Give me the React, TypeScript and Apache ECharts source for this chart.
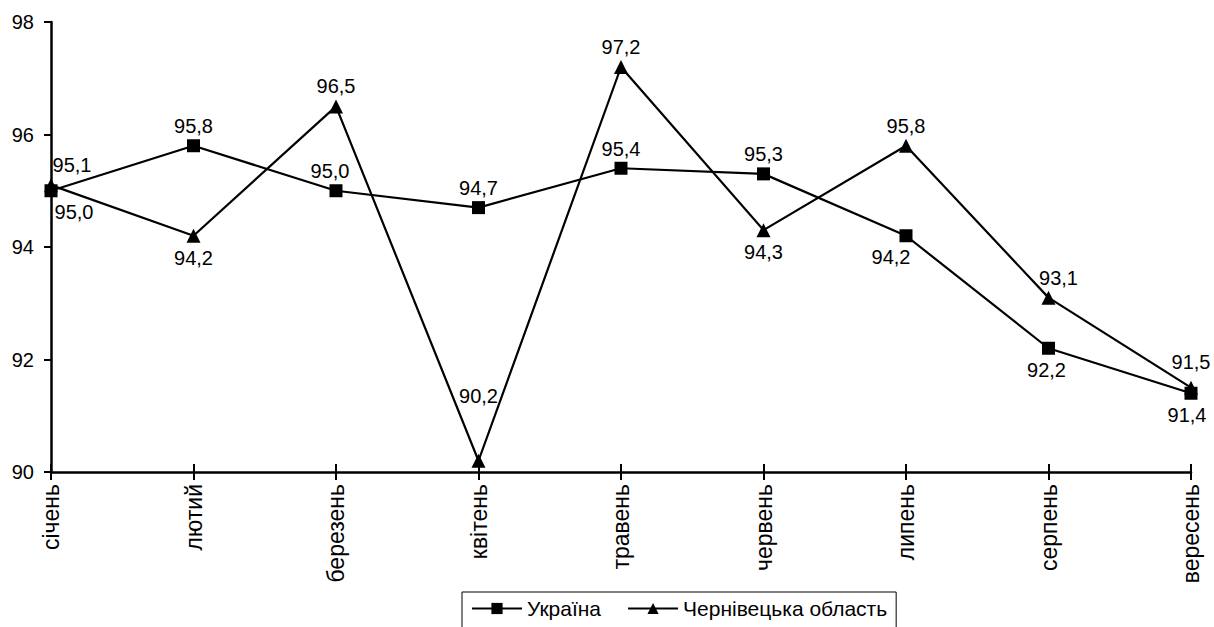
import React, { useEffect, useRef } from "react";
import * as echarts from "echarts";

const months = ["січень", "лютий", "березень", "квітень", "травень", "червень", "липень", "серпень", "вересень"];
const ukraine = [95.0, 95.8, 95.0, 94.7, 95.4, 95.3, 94.2, 92.2, 91.4];
const chernivtsi = [95.1, 94.2, 96.5, 90.2, 97.2, 94.3, 95.8, 93.1, 91.5];
const seriesNames = ["Україна", "Чернівецька область"];
const yMin = 90;
const yMax = 98;
const yStep = 2;

// label placement per point (style only)
const ukraineLabelPos: [string, number[]][] = [
  ["bottom", [23, 0]], ["top", [0, 0]], ["top", [-6, 0]], ["top", [0, 0]], ["top", [0, 0]],
  ["top", [0, 0]], ["bottom", [-15, 0]], ["bottom", [-2, 0]], ["bottom", [-4, 0]],
];
const chernLabelPos: [string, number[]][] = [
  ["top", [21, 0]], ["bottom", [0, 0]], ["top", [0, 0]], ["top", [0, -45]], ["top", [0, 0]],
  ["bottom", [0, 0]], ["top", [0, 0]], ["top", [10, 0]], ["top", [0, -6]],
];

const FONT = "'Liberation Sans', Arial, sans-serif";
const fmt = (v: number) => v.toFixed(1).replace(".", ",");

function buildData(values: number[], pos: [string, number[]][]) {
  return values.map((v, i) => ({
    value: v,
    label: {
      position: pos[i][0],
      offset: pos[i][1],
      distance: pos[i][0] === "bottom" ? 5 : 3,
    },
  }));
}

export default function App() {
  const ref = useRef<HTMLDivElement>(null);
  useEffect(() => {
    if (!ref.current) return;
    const chart = echarts.init(ref.current, undefined, { renderer: "svg" });
    const labelCommon = {
      show: true,
      color: "#000",
      fontSize: 20,
      fontFamily: FONT,
      formatter: (p: any) => fmt(p.value),
    };
    chart.setOption({
      animation: false,
      backgroundColor: "#fff",
      textStyle: { fontFamily: FONT },
      grid: { left: 51, right: 23, top: 22, bottom: 155, containLabel: false },
      legend: {
        data: seriesNames,
        left: 462,
        top: 592,
        orient: "horizontal",
        borderColor: "#000",
        borderWidth: 1,
        borderRadius: 0,
        padding: [6, 9, 20, 9],
        itemWidth: 50,
        itemHeight: 14,
        itemGap: 26,
        textStyle: { color: "#000", fontSize: 21, fontFamily: FONT },
      },
      xAxis: [
        {
          type: "category",
          data: months,
          boundaryGap: false,
          axisLine: { lineStyle: { color: "#000", width: 2.5 } },
          axisTick: { show: true, inside: false, length: 8, lineStyle: { color: "#000", width: 2 } },
          axisLabel: { rotate: 90, color: "#000", fontSize: 23, fontFamily: FONT, margin: 12, interval: 0 },
          splitLine: { show: false },
        },
        {
          type: "category",
          data: months,
          boundaryGap: false,
          position: "bottom",
          axisLine: { show: false },
          axisTick: { show: true, inside: true, length: 8, lineStyle: { color: "#000", width: 2 } },
          axisLabel: { show: false },
          splitLine: { show: false },
        },
      ],
      yAxis: {
        type: "value",
        min: yMin,
        max: yMax,
        interval: yStep,
        axisLine: { show: true, lineStyle: { color: "#000", width: 2.5 } },
        axisTick: { show: true, inside: false, length: 7, lineStyle: { color: "#000", width: 2 } },
        axisLabel: { color: "#000", fontSize: 20, fontFamily: FONT, margin: 17 },
        splitLine: { show: false },
      },
      series: [
        {
          name: seriesNames[0],
          type: "line",
          data: buildData(ukraine, ukraineLabelPos),
          symbol: "rect",
          symbolSize: 13,
          lineStyle: { color: "#000", width: 2.2 },
          itemStyle: { color: "#000" },
          label: labelCommon,
        },
        {
          name: seriesNames[1],
          type: "line",
          data: buildData(chernivtsi, chernLabelPos),
          symbol: "triangle",
          symbolSize: 14,
          lineStyle: { color: "#000", width: 2.2 },
          itemStyle: { color: "#000" },
          label: labelCommon,
        },
      ],
    });
    return () => chart.dispose();
  }, []);
  return (
    <div
      ref={ref}
      style={{ position: "fixed", left: 0, top: 0, width: 1214, height: 627, background: "#fff" }}
    />
  );
}
